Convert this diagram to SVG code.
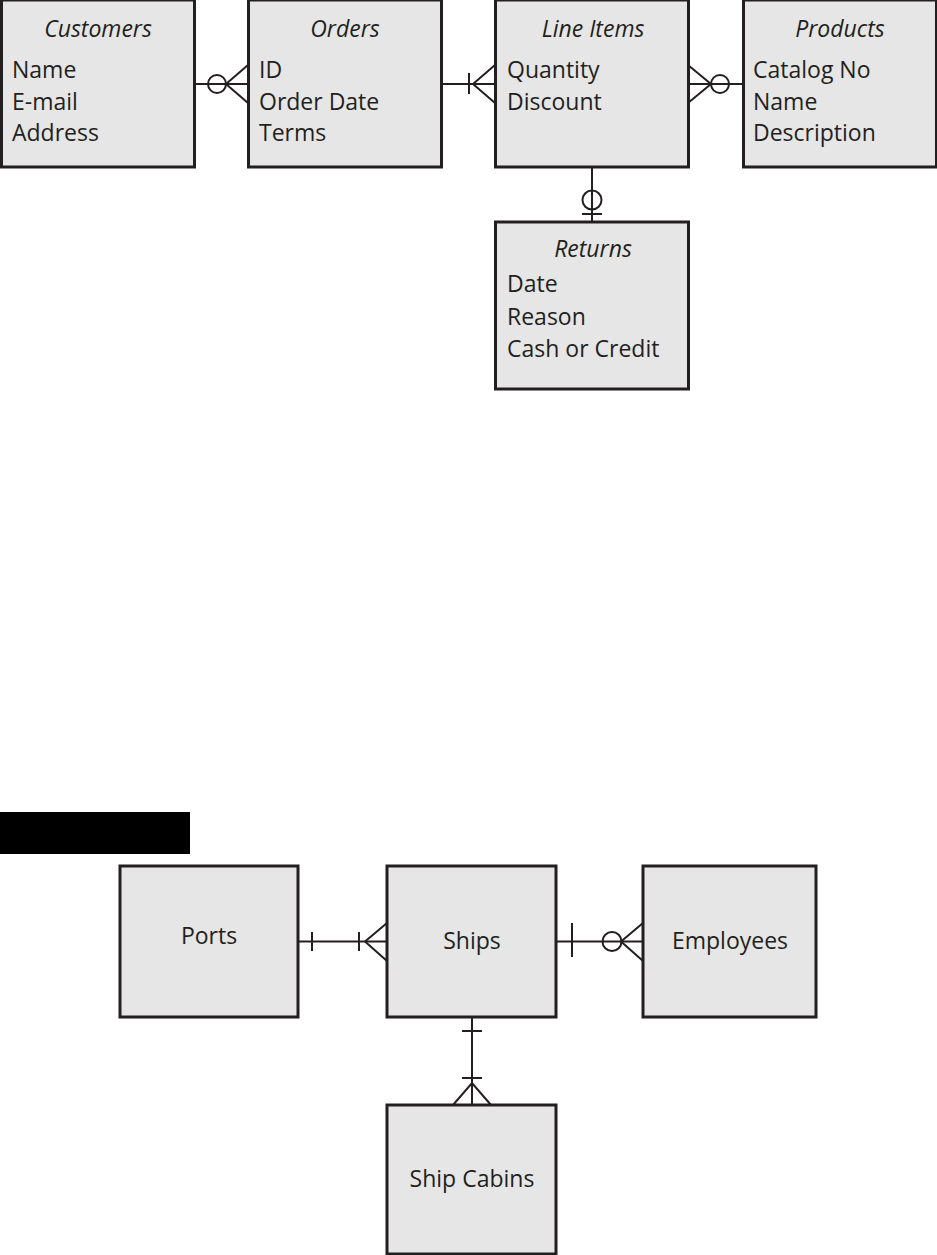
<svg xmlns="http://www.w3.org/2000/svg" width="937" height="1255" viewBox="0 0 937 1255">
<style>
.box{fill:#e6e6e6;stroke:#231f20;stroke-width:3}
.t{font-family:"Open Sans","Noto Sans",sans-serif;font-size:23px;fill:#231f20}
.ti{font-family:"Open Sans","Noto Sans",sans-serif;font-size:23px;font-style:italic;fill:#231f20;text-anchor:middle}
.c{font-family:"Open Sans","Noto Sans",sans-serif;font-size:23px;fill:#231f20;text-anchor:middle}
.ln{fill:none;stroke:#231f20;stroke-width:2}
</style>
<rect width="937" height="1255" fill="#ffffff"/>
<g id="customers">
<rect class="box" x="1.5" y="0" width="193" height="167"/>
<text class="ti" x="98" y="37">Customers</text>
<text class="t" x="12" y="78">Name</text>
<text class="t" x="12" y="110">E-mail</text>
<text class="t" x="12" y="141">Address</text>
</g>
<g id="orders">
<rect class="box" x="248.5" y="0" width="193" height="167"/>
<text class="ti" x="345" y="37">Orders</text>
<text class="t" x="259" y="78">ID</text>
<text class="t" x="259" y="110">Order Date</text>
<text class="t" x="259" y="141">Terms</text>
</g>
<g id="line-items">
<rect class="box" x="495.5" y="0" width="193" height="167"/>
<text class="ti" x="593" y="37">Line Items</text>
<text class="t" x="507" y="78">Quantity</text>
<text class="t" x="507" y="110">Discount</text>
</g>
<g id="products">
<rect class="box" x="743.5" y="0" width="193" height="167"/>
<text class="ti" x="840" y="37">Products</text>
<text class="t" x="753" y="78">Catalog No</text>
<text class="t" x="753" y="110">Name</text>
<text class="t" x="753" y="141">Description</text>
</g>
<g id="returns">
<rect class="box" x="495.5" y="222" width="193" height="167"/>
<text class="ti" x="593" y="257">Returns</text>
<text class="t" x="507" y="292">Date</text>
<text class="t" x="507" y="325">Reason</text>
<text class="t" x="507" y="357">Cash or Credit</text>
</g>
<rect id="redaction" x="0" y="812" width="190" height="42" fill="#000000"/>
<g id="ports">
<rect class="box" x="120" y="866" width="178" height="151"/>
<text class="c" x="209" y="944">Ports</text>
</g>
<g id="ships">
<rect class="box" x="387" y="866" width="169" height="151"/>
<text class="c" x="472" y="949">Ships</text>
</g>
<g id="employees">
<rect class="box" x="643" y="866" width="173" height="151"/>
<text class="c" x="730" y="949">Employees</text>
</g>
<g id="ship-cabins">
<rect class="box" x="387" y="1105" width="169" height="149"/>
<text class="c" x="472" y="1187">Ship Cabins</text>
</g>
<g id="connectors">
<!-- Customers - Orders -->
<line class="ln" x1="195" y1="84" x2="248" y2="84"/>
<circle class="ln" cx="217" cy="84" r="9" fill="#ffffff"/>
<polyline class="ln" points="248,65 226,84 248,103"/>
<!-- Orders - Line Items -->
<line class="ln" x1="442" y1="84" x2="495" y2="84"/>
<line class="ln" x1="469" y1="73" x2="469" y2="94"/>
<polyline class="ln" points="495,65 473,84 495,103"/>
<!-- Line Items - Products -->
<line class="ln" x1="688" y1="84" x2="743" y2="84"/>
<polyline class="ln" points="688,65 711,84 688,103"/>
<circle class="ln" cx="720" cy="84" r="9" fill="#ffffff"/>
<!-- Line Items - Returns -->
<line class="ln" x1="592" y1="168" x2="592" y2="222"/>
<circle class="ln" cx="592" cy="200" r="9.5" fill="none"/>
<line class="ln" x1="582" y1="214" x2="602" y2="214"/>
<!-- Ports - Ships -->
<line class="ln" x1="298" y1="941.5" x2="387" y2="941.5"/>
<line class="ln" x1="312" y1="932" x2="312" y2="951"/>
<line class="ln" x1="359" y1="932" x2="359" y2="951"/>
<polyline class="ln" points="387,923 365,941.5 387,961"/>
<!-- Ships - Employees -->
<line class="ln" x1="556" y1="941.5" x2="643" y2="941.5"/>
<line class="ln" x1="572" y1="923" x2="572" y2="957"/>
<circle class="ln" cx="612" cy="941.5" r="9.5" fill="#ffffff"/>
<polyline class="ln" points="643,923 621,941.5 643,961"/>
<!-- Ships - Ship Cabins -->
<line class="ln" x1="472" y1="1017" x2="472" y2="1105"/>
<line class="ln" x1="462" y1="1031" x2="482" y2="1031"/>
<line class="ln" x1="462" y1="1078" x2="482" y2="1078"/>
<polyline class="ln" points="453,1105 472,1083 491,1105"/>
</g>
</svg>
